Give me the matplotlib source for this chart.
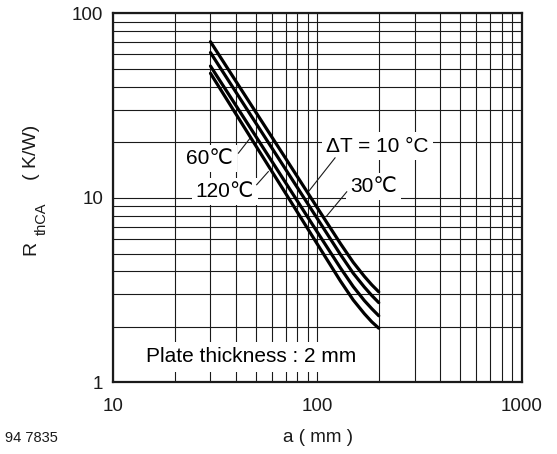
import matplotlib
matplotlib.use("Agg")
import matplotlib.pyplot as plt
from matplotlib.ticker import NullFormatter, LogLocator

plt.rcParams['font.family'] = ['Liberation Sans', 'DejaVu Sans']

# Data
a_mm = [30, 50, 70, 100, 130, 150, 170, 185, 200]
r_dt10 = [70.3, 29.2, 16.4, 8.86, 5.65, 4.48, 3.76, 3.38, 3.10]
r_dt30 = [61.4, 25.5, 14.3, 7.74, 4.93, 3.91, 3.29, 2.96, 2.71]
r_dt60 = [51.9, 21.6, 12.1, 6.54, 4.17, 3.31, 2.78, 2.51, 2.30]
r_dt120 = [47.4, 19.2, 10.6, 5.63, 3.54, 2.80, 2.36, 2.13, 1.97]
series = [r_dt10, r_dt30, r_dt60, r_dt120]

x_ticks = [10, 100, 1000]
x_ticklabels = ["10", "100", "1000"]
y_ticks = [1, 10, 100]
y_ticklabels = ["1", "10", "100"]

fig = plt.figure(figsize=(5.57, 4.54), dpi=100)
ax = fig.add_axes([0.2029, 0.1575, 0.7334, 0.8128])
ax.set_xscale('log')
ax.set_yscale('log')
ax.set_xlim(10, 1000)
ax.set_ylim(1, 100)

ax.xaxis.set_minor_locator(LogLocator(base=10, subs=range(2, 10)))
ax.yaxis.set_minor_locator(LogLocator(base=10, subs=range(2, 10)))
ax.xaxis.set_minor_formatter(NullFormatter())
ax.yaxis.set_minor_formatter(NullFormatter())
ax.grid(which='both', color='#1a1a1a', linewidth=0.8, zorder=0)
ax.set_axisbelow(True)

for s in series:
    ax.plot(a_mm, s, color='black', linewidth=2.3, solid_capstyle='round',
            solid_joinstyle='round', zorder=5)

ax.set_xticks(x_ticks)
ax.set_xticklabels(x_ticklabels)
ax.set_yticks(y_ticks)
ax.set_yticklabels(y_ticklabels)
ax.tick_params(which='both', length=0, labelsize=13.5, colors='#1a1a1a')
ax.tick_params(axis='x', pad=11)
ax.tick_params(axis='y', pad=7)
for sp in ax.spines.values():
    sp.set_linewidth(1.6)
    sp.set_color('#1a1a1a')
    sp.set_zorder(6)

box = dict(facecolor='white', edgecolor='none', pad=3)
fs = 15
ax.text(29.7, 16.4, "60\u2103", ha='center', va='center', fontsize=fs, bbox=box, zorder=3)
ax.text(35.3, 10.8, "120\u2103", ha='center', va='center', fontsize=fs, bbox=box, zorder=3)
ax.text(197.2, 19.1, "\u0394T = 10 \u00b0C", ha='center', va='center', fontsize=fs, bbox=box, zorder=3)
ax.text(188.6, 11.5, "30\u2103", ha='center', va='center', fontsize=fs, bbox=box, zorder=3)
ax.text(47.6, 1.38, "Plate thickness : 2 mm", ha='center', va='center', fontsize=fs,
        bbox=dict(facecolor='white', edgecolor='none', pad=4), zorder=3)

leaders = [((41.1, 17.5), (46.9, 21.1)),
           ((50.5, 11.8), (57.6, 13.9)),
           ((122.2, 16.5), (90.4, 10.8)),
           ((139.4, 10.8), (111.2, 7.99))]
for (x0, y0), (x1, y1) in leaders:
    ax.plot([x0, x1], [y0, y1], color='#1a1a1a', linewidth=0.8, zorder=4)

fig.text(318 / 557, 1 - 437 / 454, "a ( mm )", ha='center', va='center', fontsize=13.5, color='#1a1a1a')
fig.text(5 / 557, 1 - 438 / 454, "94 7835", ha='left', va='center', fontsize=10.5, color='#1a1a1a')
fig.text(31 / 557, 1 - 248 / 454, "R", ha='center', va='center', rotation=90, fontsize=14, color='#1a1a1a')
fig.text(42 / 557, 1 - 219 / 454, "thCA", ha='center', va='center', rotation=90, fontsize=10.5, color='#1a1a1a')
fig.text(31 / 557, 1 - 152 / 454, "( K/W)", ha='center', va='center', rotation=90, fontsize=14, color='#1a1a1a')

fig.savefig("out.png", dpi=100)
